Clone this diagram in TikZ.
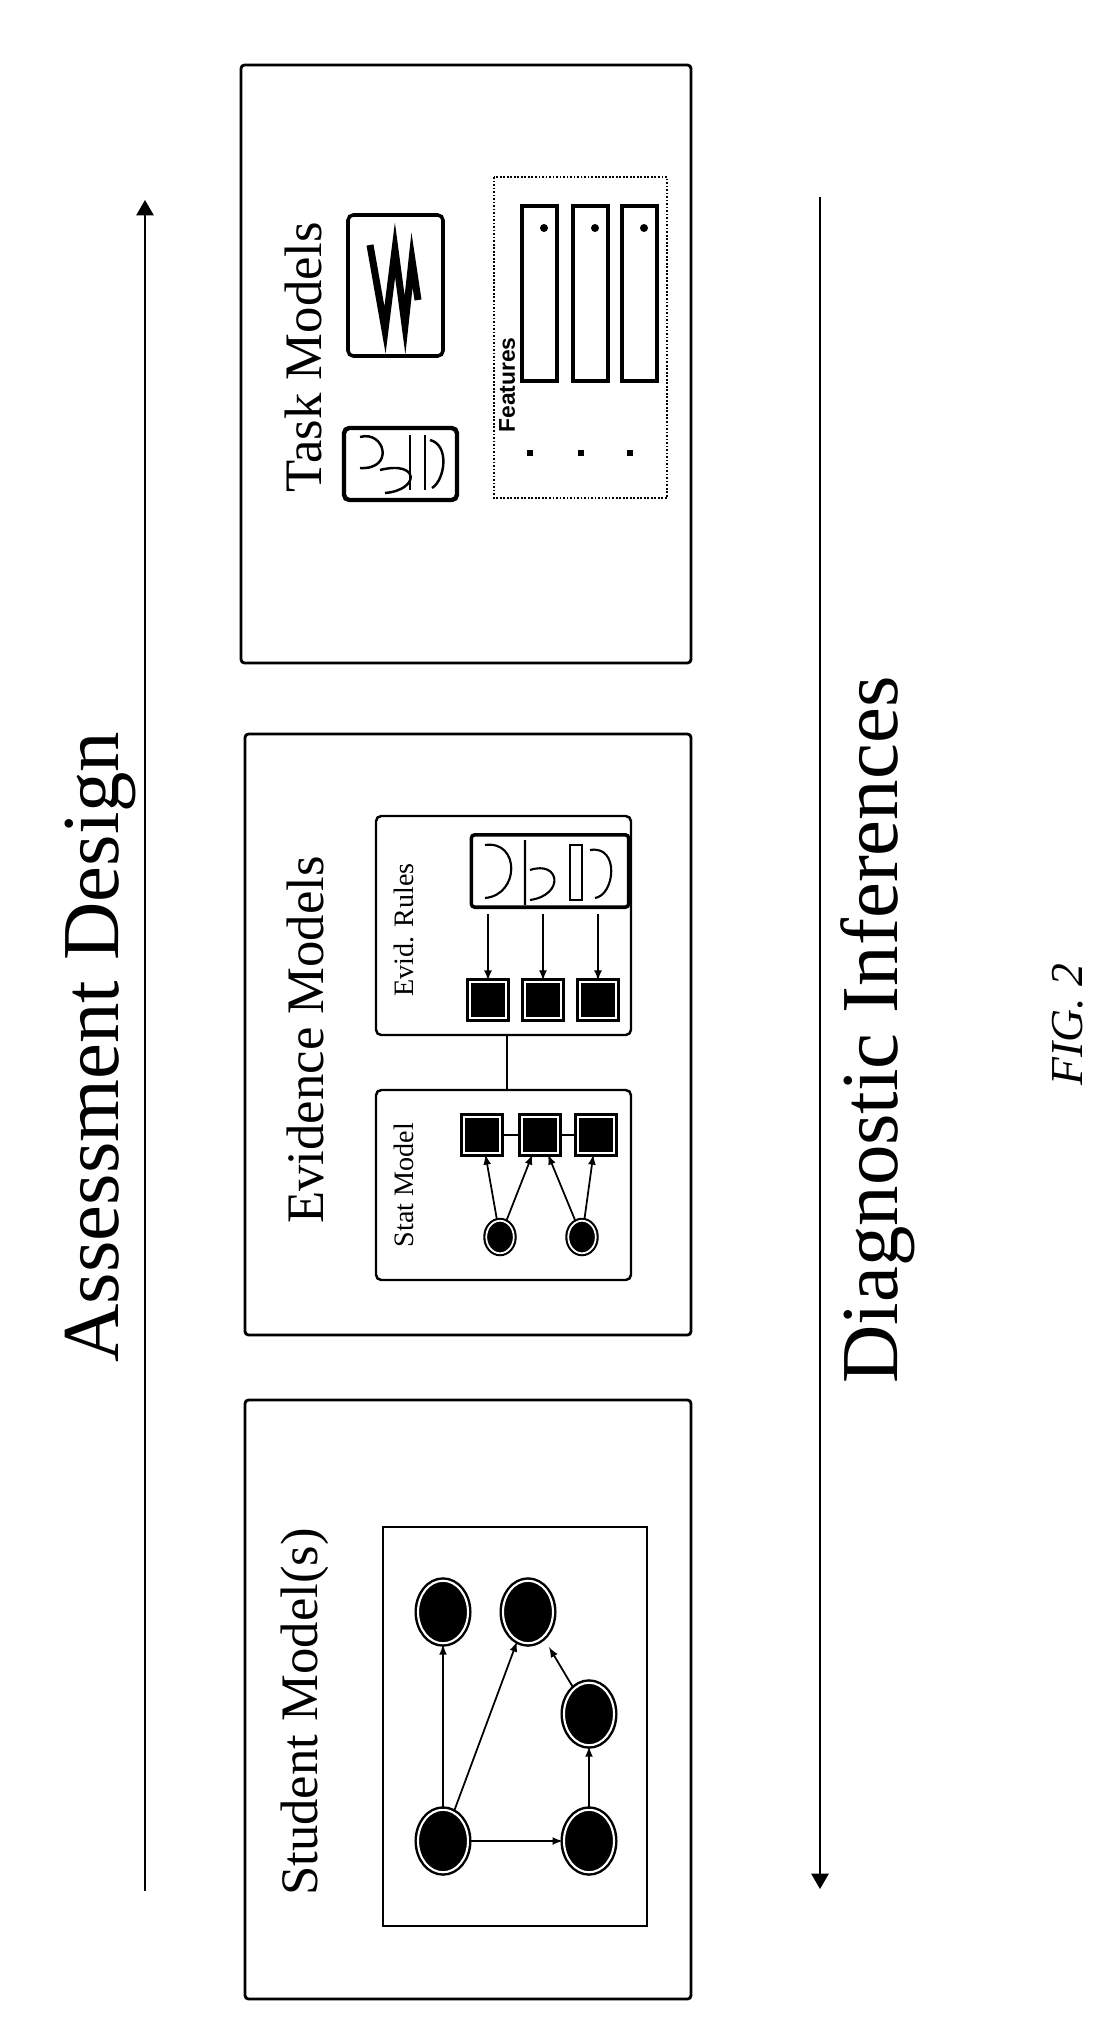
\documentclass[tikz,border=0pt]{standalone}
\usepackage{fontspec}
\setmainfont{Liberation Serif}
\setsansfont{Liberation Sans}
\usetikzlibrary{positioning,shapes.geometric,arrows}

\tikzset{
	panel/.style={draw=black, line width=1.6pt, rounded corners=2pt},
	subpanel/.style={draw=black, line width=1.4pt, rounded corners=3pt},
	title/.style={rotate=90, font=\fontsize{30}{34}\selectfont},
	biglabel/.style={rotate=90, font=\fontsize{46}{50}\selectfont},
	small/.style={rotate=90, font=\fontsize{16}{18}\selectfont},
	sm/.style={ellipse, fill=black, draw=black, double=white, double distance=1.2pt, line width=1.4pt, minimum width=1.0cm, minimum height=1.25cm, inner sep=0pt},
	sq/.style={rectangle, fill=black, draw=black, double=white, double distance=1.2pt, line width=1.6pt, minimum size=0.72cm, inner sep=0pt},
	blob/.style={ellipse, fill=black, draw=black, double=white, double distance=1pt, line width=1.2pt, minimum width=0.55cm, minimum height=0.65cm, inner sep=0pt},
	edge/.style={-latex, line width=1pt}
}

\begin{document}
\begin{tikzpicture}[x=0.02cm, y=-0.02cm]
		\useasboundingbox (0,0) rectangle (1106,2024);
		% side arrows
		\coordinate (adlow) at (145,1891);
		\coordinate (adtop) at (145,200);
		\draw [edge, line width=1.4pt, -triangle 60] (adlow) -- (adtop);
		\node [biglabel] (adtext) at (100,1047) {Assessment Design};
		\coordinate (ditop) at (820,197);
		\coordinate (dilow) at (820,1889);
		\draw [edge, line width=1.4pt, -triangle 60] (ditop) -- (dilow);
		\node [biglabel] (ditext) at (878,1030) {Diagnostic Inferences};
		\node [rotate=90, font=\itshape\fontsize{26}{30}\selectfont] (fig) at (1068,1025) {FIG. 2};
		% task models
		\draw [panel] (241,65) rectangle (691,663);
		\node [title] (tasktitle) at (303,357) {Task Models};
		\draw [subpanel, line width=2.5pt] (344,428) rectangle (457,500);
		\draw [line width=1.4pt] (360,437) .. controls (385,430) and (395,470) .. (360,468);
		\draw [line width=1.4pt] (380,470) .. controls (420,460) and (420,490) .. (385,493);
		\draw [line width=1.4pt] (410,435) -- (410,490) (425,435) -- (425,490);
		\draw [line width=1.4pt] (430,440) .. controls (450,445) and (445,480) .. (432,488);
		\draw [subpanel, line width=2pt] (348,215) rectangle (443,356);
		\draw [line width=4pt] (370,245) -- (385,330) -- (395,250) -- (405,325) -- (412,260) -- (418,300);
		\draw [line width=1pt, densely dotted] (494,177) rectangle (667,498);
		\node [rotate=90, font=\sffamily\bfseries\fontsize{13}{15}\selectfont] (feat) at (507,385) {Features};
		\foreach \c/\x in {1/522, 2/573, 3/622} {
			\draw [line width=2pt] (\x,206) rectangle +(35,175);
			\fill (\x+22,228) circle (4);
			\fill (\x+5,450) rectangle +(6,6);
		}
		% evidence models
		\draw [panel] (245,734) rectangle (691,1335);
		\node [title] (evtitle) at (305,1040) {Evidence Models};
		\draw [subpanel] (376,816) rectangle (631,1035);
		\node [small] (evlabel) at (404,930) {Evid. Rules};
		\node [draw, line width=2pt, rounded corners=2pt, minimum width=3.15cm, minimum height=1.45cm] (evicon) at (550,871) {};
		\draw [line width=1.2pt] (485,845) .. controls (520,840) and (520,895) .. (485,898);
		\draw [line width=1.2pt] (525,840) -- (525,905) (530,870) .. controls (560,860) and (565,895) .. (530,900);
		\draw [line width=1.2pt] (570,845) rectangle (582,900);
		\draw [line width=1.2pt] (590,850) .. controls (620,845) and (615,895) .. (595,898);
		\node [sq] (ev1) at (488,1000) {};
		\node [sq] (ev2) at (543,1000) {};
		\node [sq] (ev3) at (598,1000) {};
		\foreach \n in {ev1,ev2,ev3}
			\draw [edge] (\n |- evicon.south) ++(0,5) -- (\n);
		\draw [subpanel] (376,1090) rectangle (631,1280);
		\node [small] (stlabel) at (404,1185) {Stat Model};
		\draw [line width=1.2pt] (507,1035) -- (507,1090);
		\node [sq] (st1) at (482,1135) {};
		\node [sq] (st2) at (540,1135) {};
		\node [sq] (st3) at (596,1135) {};
		\draw [line width=1pt] (st1) -- (st2) -- (st3);
		\node [blob] (th1) at (500,1237) {};
		\node [blob] (th2) at (582,1237) {};
		\draw [edge] (th1) -- (st1);
		\draw [edge] (th1) -- (st2);
		\draw [edge] (th2) -- (st2);
		\draw [edge] (th2) -- (st3);
		% student model
		\draw [panel] (245,1400) rectangle (691,1999);
		\node [title] (smtitle) at (305,1712) {Student Model(s)};
		\draw [line width=1.4pt] (383,1527) rectangle (647,1926);
		\node [sm] (sa) at (443,1841) {};
		\node [sm] (sb) at (589,1841) {};
		\node [sm] (sc) at (589,1714) {};
		\node [sm] (sd) at (443,1612) {};
		\node [sm] (se) at (528,1612) {};
		\draw [edge] (sa) -- (sd);
		\draw [edge] (sa) -- (se);
		\draw [edge] (sa) -- (sb);
		\draw [edge] (sb) -- (sc);
		\draw [edge, shorten >=6pt] (sc) -- (se);
\end{tikzpicture}
\end{document}
